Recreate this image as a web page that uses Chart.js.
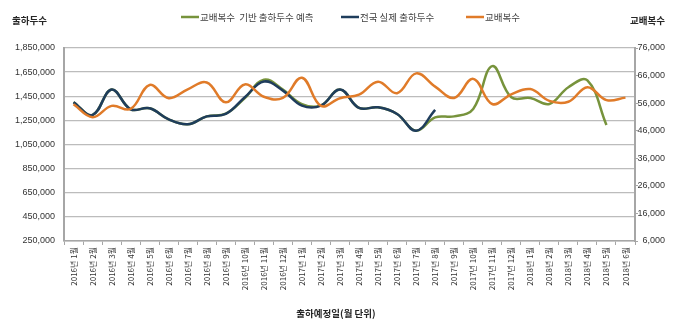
<!DOCTYPE html>
<html>
<head>
<meta charset="utf-8">
<script src="https://cdn.jsdelivr.net/npm/chart.js@4.4.1/dist/chart.umd.min.js"></script>
<style>
  html, body { margin: 0; padding: 0; background: #fff; }
  #wrap { width: 680px; height: 332px; }
</style>
</head>
<body>
<div id="wrap"><canvas id="shipChart" width="680" height="332"></canvas></div>
<script>
// categories (shipping month)
const months = [
  '2016년 1월', '2016년 2월', '2016년 3월', '2016년 4월', '2016년 5월', '2016년 6월',
  '2016년 7월', '2016년 8월', '2016년 9월', '2016년 10월', '2016년 11월', '2016년 12월',
  '2017년 1월', '2017년 2월', '2017년 3월', '2017년 4월', '2017년 5월', '2017년 6월',
  '2017년 7월', '2017년 8월', '2017년 9월', '2017년 10월', '2017년 11월', '2017년 12월',
  '2018년 1월', '2018년 2월', '2018년 3월', '2018년 4월', '2018년 5월', '2018년 6월'
];

// shipments predicted from breeding sows (left axis)
const predicted = [
  1400000, 1295000, 1506000, 1342000, 1350000, 1258000, 1218000, 1283000, 1305000, 1435000,
  1588000, 1505000, 1385000, 1374000, 1506000, 1353000, 1358000, 1303000, 1164000, 1275000,
  1283000, 1345000, 1700000, 1442000, 1436000, 1386000, 1525000, 1581000, 1212000, null
];

// actual national shipments (left axis)
const actual = [
  1400000, 1295000, 1506000, 1342000, 1350000, 1258000, 1218000, 1283000, 1303000, 1442000,
  1572000, 1497000, 1372000, 1372000, 1506000, 1353000, 1358000, 1303000, 1164000, 1337000,
  null, null, null, null, null, null, null, null, null, null
];

// breeding sows (right axis)
const breeding = [
  55600, 50900, 55000, 53900, 62600, 57800, 61000, 63500, 56300, 62800,
  58300, 57900, 65200, 55000, 57800, 59100, 63800, 59600, 66800, 62000,
  57900, 64800, 55700, 59200, 61100, 56800, 56500, 61800, 57100, 58000
];

const leftTicks = { min: 250000, max: 1850000, step: 200000 };
const rightTicks = { min: 6000, max: 76000, step: 10000 };

const leftTitle = '출하두수';
const rightTitle = '교배복수';
const xTitle = '출하예정일(월 단위)';

const numFont = "'Liberation Sans Narrow', 'Liberation Sans', sans-serif";
const krFont = "'Noto Sans CJK KR', sans-serif";

// horizontal axis titles + legend row at the top
const extraText = {
  id: 'extraText',
  afterDraw(chart) {
    const ctx = chart.ctx;
    ctx.save();
    ctx.fillStyle = '#262626';
    ctx.textBaseline = 'middle';
    ctx.font = 'bold 9.5px ' + krFont;
    ctx.textAlign = 'left';
    ctx.fillText(leftTitle, 12, 20);
    ctx.textAlign = 'right';
    ctx.fillText(rightTitle, 665, 20);
    ctx.textAlign = 'center';
    ctx.fillText(xTitle, 336, 313);

    // legend
    const legendX = [181, 341, 466];
    ctx.font = '9.5px ' + krFont;
    ctx.textAlign = 'left';
    ctx.fillStyle = '#404040';
    chart.data.datasets.forEach((ds, i) => {
      const x = legendX[i];
      ctx.strokeStyle = ds.borderColor;
      ctx.lineWidth = 2.5;
      ctx.beginPath();
      ctx.moveTo(x, 17);
      ctx.lineTo(x + 18, 17);
      ctx.stroke();
      ctx.fillText(ds.label, x + 19, 17);
    });
    ctx.restore();
  }
};

const ctx = document.getElementById('shipChart').getContext('2d');
const shipChart = new Chart(ctx, {
  type: 'line',
  data: {
    labels: months,
    datasets: [{
      label: '교배복수  기반 출하두수 예측',
      data: predicted,
      yAxisID: 'y',
      borderColor: '#77933c',
      order: 2
    }, {
      label: '전국 실제 출하두수',
      data: actual,
      yAxisID: 'y',
      borderColor: '#1f3d5c',
      order: 1
    }, {
      label: '교배복수',
      data: breeding,
      yAxisID: 'y1',
      borderColor: '#e07b29',
      order: 0
    }]
  },
  options: {
    responsive: false,
    animation: false,
    layout: { padding: { top: 48, right: 15, left: 0, bottom: 0 } },
    elements: {
      line: { borderWidth: 2.5, tension: 0.4, fill: false },
      point: { radius: 0 }
    },
    plugins: {
      legend: { display: false },
      tooltip: { enabled: false }
    },
    scales: {
      x: {
        offset: true,
        grid: { offset: true, drawOnChartArea: false, tickLength: 4, color: '#a6a6a6' },
        border: { color: '#a6a6a6', width: 1.5 },
        ticks: {
          autoSkip: false, minRotation: 90, maxRotation: 90, padding: 2,
          color: '#333', font: { family: krFont, size: 8 }
        },
        afterFit(scale) { scale.height = 91; }
      },
      y: {
        position: 'left',
        min: leftTicks.min, max: leftTicks.max,
        grid: { drawTicks: false, color: '#bcbcbc', lineWidth: 1.3 },
        border: { color: '#a6a6a6', width: 2 },
        ticks: {
          stepSize: leftTicks.step, padding: 9, color: '#333',
          font: { family: numFont, size: 9 },
          callback: v => v.toLocaleString('en-US')
        },
        afterFit(scale) { scale.width = 64; }
      },
      y1: {
        position: 'right',
        min: rightTicks.min, max: rightTicks.max,
        grid: { drawOnChartArea: false, tickLength: 3, color: '#a6a6a6' },
        border: { color: '#a6a6a6', width: 2 },
        ticks: {
          stepSize: rightTicks.step, crossAlign: 'far', color: '#333',
          font: { family: numFont, size: 9 },
          callback: v => v.toLocaleString('en-US')
        },
        afterFit(scale) { scale.width = 30; }
      }
    }
  },
  plugins: [extraText]
});
</script>
</body>
</html>
